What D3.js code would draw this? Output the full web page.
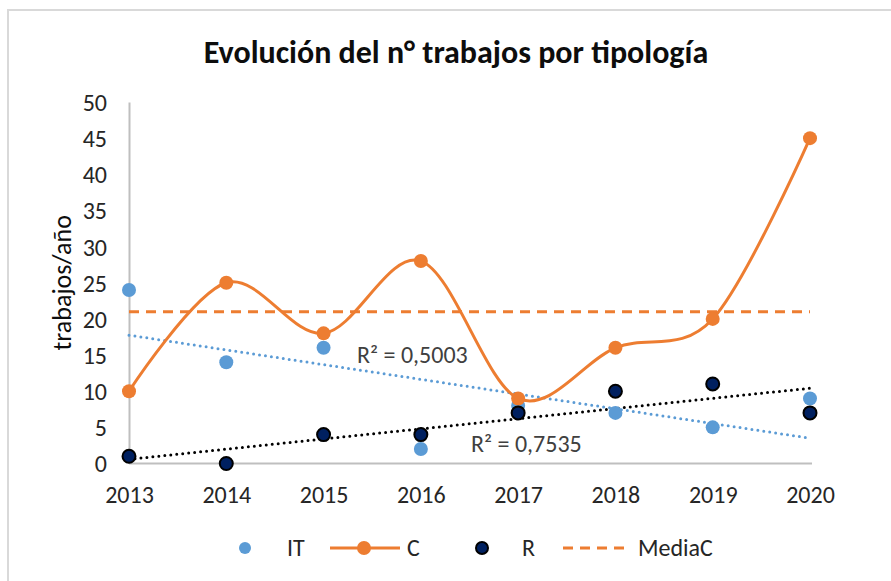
<!DOCTYPE html>
<html>
<head>
<meta charset="utf-8">
<script src="https://cdn.jsdelivr.net/npm/d3@7"></script>
<style>
  body { margin: 0; background: #fff; }
  text { font-family: Carlito, Lato, "Open Sans", sans-serif; }
</style>
</head>
<body>
<svg id="chart"></svg>
<script>
const years = [2013, 2014, 2015, 2016, 2017, 2018, 2019, 2020]
const itValues = [24, 14, 16, 2, 8, 7, 5, 9]
const cValues = [10, 25, 18, 28, 9, 16, 20, 45]
const rValues = [1, 0, 4, 4, 7, 10, 11, 7]
const mediaC = 21
const yTicks = [0, 5, 10, 15, 20, 25, 30, 35, 40, 45, 50]

let w = 891, h = 581
let svg = d3.select('#chart').attr('width', w).attr('height', h)

// outer chart frame (runs off the right/bottom edge)
svg.append('rect')
  .attr('x', 8).attr('y', 10).attr('width', w).attr('height', h)
  .attr('fill', '#fff').attr('stroke', '#d9d9d9').attr('stroke-width', 2)

let scX = d3.scaleLinear().domain([2013, 2020]).range([129, 810])
let scY = d3.scaleLinear().domain([0, 50]).range([463.5, 102])

const blue = '#5b9bd5', orange = '#ed7d31', navy = '#002060'

// axes
let yAxis = svg.append('g').attr('transform', `translate(${scX(2013)},0)`)
  .call(d3.axisLeft(scY).tickValues(yTicks).tickSize(0).tickPadding(22))
let xAxis = svg.append('g').attr('transform', `translate(0,${scY(0)})`)
  .call(d3.axisBottom(scX).tickValues(years).tickFormat(d3.format('d')).tickSize(0).tickPadding(22))
xAxis.select('.domain').attr('d', `M${scX(2013)},0H${scX(2020) + 2}`)
;[xAxis, yAxis].forEach(a => {
  a.select('.domain').attr('stroke', '#bfbfbf').attr('stroke-width', 2)
  a.selectAll('text').attr('font-size', 24).attr('fill', '#262626')
})
yAxis.selectAll('text').attr('dy', '0.35em')

// title + axis label
svg.append('text').attr('x', 456).attr('y', 63).attr('text-anchor', 'middle')
  .attr('font-size', 32).attr('font-weight', 'bold').attr('fill', '#0d0d0d')
  .text('Evolución del n° trabajos por tipología')
svg.append('text').attr('transform', `translate(71,${scY(25)}) rotate(-90)`)
  .attr('text-anchor', 'middle').attr('font-size', 26).attr('fill', '#0d0d0d')
  .text('trabajos/año')

// linear trendlines computed from the data
const fit = vals => {
  let xs = years.map(y => y - 2013)
  let mx = d3.mean(xs), my = d3.mean(vals)
  let sxy = d3.sum(xs, (x, i) => (x - mx) * (vals[i] - my))
  let sxx = d3.sum(xs, x => (x - mx) ** 2)
  let syy = d3.sum(vals, v => (v - my) ** 2)
  let slope = sxy / sxx
  return { f: yr => my + slope * (yr - 2013 - mx), r2: sxy * sxy / (sxx * syy) }
}
let itFit = fit(itValues), rFit = fit(rValues)

const trend = (ft, color) => svg.append('line')
  .attr('x1', scX(2013)).attr('y1', scY(ft.f(2013)))
  .attr('x2', scX(2020)).attr('y2', scY(ft.f(2020)))
  .attr('stroke', color).attr('stroke-width', 3)
  .attr('stroke-dasharray', '0 6').attr('stroke-linecap', 'round')
trend(itFit, blue)
trend(rFit, '#000')

// mean line
svg.append('line').attr('x1', scX(2013)).attr('x2', scX(2020))
  .attr('y1', scY(mediaC)).attr('y2', scY(mediaC))
  .attr('stroke', orange).attr('stroke-width', 3).attr('stroke-dasharray', '10 7')

// C smoothed line
let line = d3.line().x((d, i) => scX(years[i])).y(d => scY(d)).curve(d3.curveCatmullRom.alpha(0))
svg.append('path').attr('d', line(cValues)).attr('fill', 'none')
  .attr('stroke', orange).attr('stroke-width', 3)

const dots = (vals, fill, stroke) => svg.append('g').selectAll('circle')
  .data(vals).enter().append('circle')
  .attr('cx', (d, i) => scX(years[i])).attr('cy', d => scY(d))
  .attr('r', stroke ? 6.5 : 7).attr('fill', fill)
  .attr('stroke', stroke || 'none').attr('stroke-width', 2)
dots(itValues, blue)
dots(cValues, orange)
dots(rValues, navy, '#000')

// R² labels
const fmt = v => 'R² = ' + v.toFixed(4).replace('.', ',')
svg.append('text').attr('x', 357).attr('y', 363).attr('font-size', 24).attr('fill', '#404040').text(fmt(itFit.r2))
svg.append('text').attr('x', 471).attr('y', 452).attr('font-size', 24).attr('fill', '#404040').text(fmt(rFit.r2))

// legend
let lg = svg.append('g').attr('font-size', 24).attr('fill', '#262626')
let ly = 548
lg.append('circle').attr('cx', 245).attr('cy', ly).attr('r', 6).attr('fill', blue)
lg.append('text').attr('x', 287).attr('y', ly).attr('dy', '0.35em').text('IT')
lg.append('line').attr('x1', 330).attr('x2', 400).attr('y1', ly).attr('y2', ly).attr('stroke', orange).attr('stroke-width', 3)
lg.append('circle').attr('cx', 364).attr('cy', ly).attr('r', 7).attr('fill', orange)
lg.append('text').attr('x', 407).attr('y', ly).attr('dy', '0.35em').text('C')
lg.append('circle').attr('cx', 482).attr('cy', ly).attr('r', 6).attr('fill', navy).attr('stroke', '#000').attr('stroke-width', 2)
lg.append('text').attr('x', 522).attr('y', ly).attr('dy', '0.35em').text('R')
lg.append('line').attr('x1', 563).attr('x2', 631).attr('y1', ly).attr('y2', ly).attr('stroke', orange).attr('stroke-width', 3).attr('stroke-dasharray', '10 7')
lg.append('text').attr('x', 638).attr('y', ly).attr('dy', '0.35em').text('MediaC')
</script>
</body>
</html>
